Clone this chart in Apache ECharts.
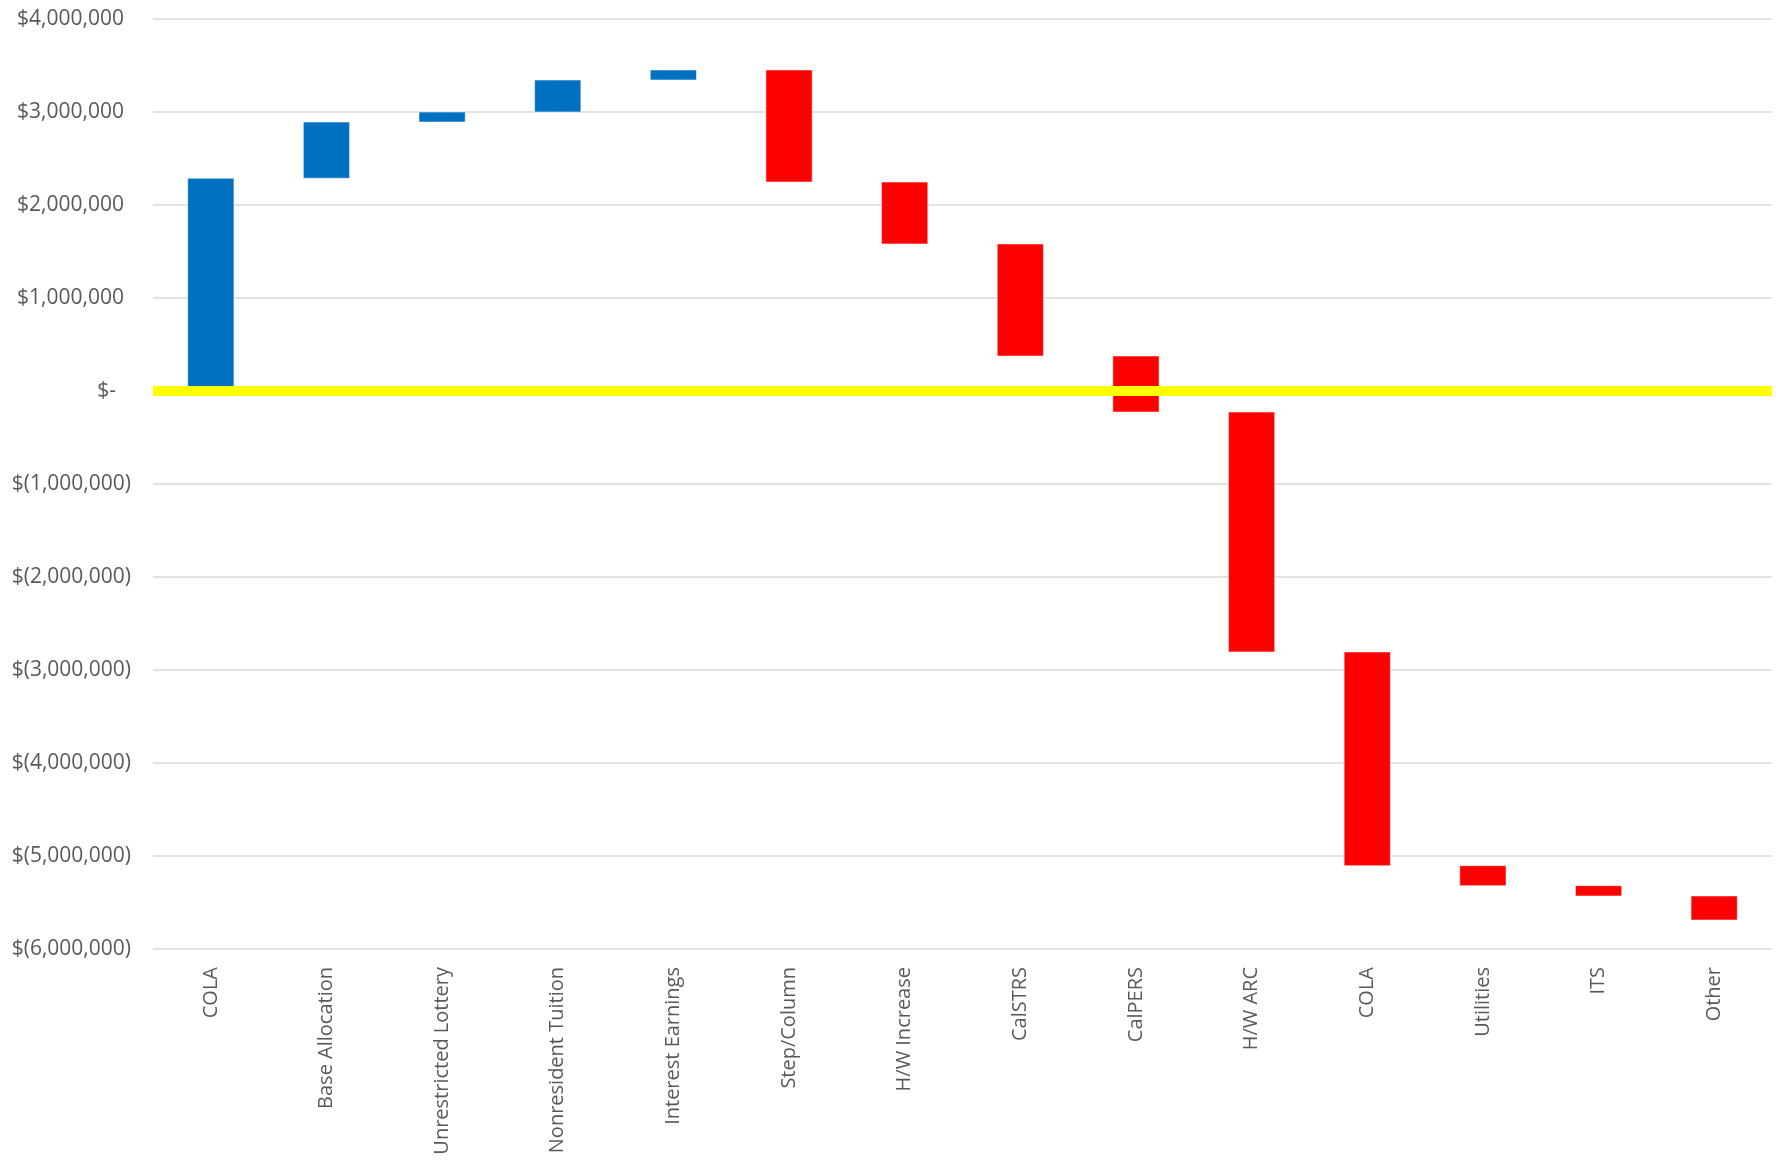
<!DOCTYPE html>
<html>
<head>
<meta charset="utf-8">
<title>Budget changes</title>
<script src="https://cdn.jsdelivr.net/npm/echarts@6/dist/echarts.min.js"></script>
<style>
  html, body { margin: 0; padding: 0; background: #ffffff; }
  #chart { width: 1789px; height: 1166px; }
</style>
</head>
<body>
<div id="chart"></div>
<script>
// Revenue increases and cost increases, in order of the waterfall
const categories = [
  'COLA', 'Base Allocation', 'Unrestricted Lottery', 'Nonresident Tuition',
  'Interest Earnings', 'Step/Column', 'H/W Increase', 'CalSTRS', 'CalPERS',
  'H/W ARC', 'COLA', 'Utilities', 'ITS', 'Other'
];
// Change in dollars for each item (positive = added funds, negative = new cost)
const changes = [
  2287000, 605000, 108000, 344000, 108000,
  -1205000, -666000, -1205000, -602000, -2580000,
  -2298000, -215000, -111000, -258000
];
// Value-axis ticks
const yMin = -6000000;
const yMax = 4000000;
const yStep = 1000000;

const INCREASE = '#0070C0';
const DECREASE = '#FF0000';
const TEXT = '#595959';
const FONT = '"Open Sans", "Liberation Sans", sans-serif';

// Running totals: each bar floats from the previous total to the new one
const steps = [];
let running = 0;
changes.forEach((d, i) => {
  const start = running;
  running += d;
  steps.push([i, start, running, d]);
});

function money(v) {
  if (v === 0) return '{t|$-}{z| }';
  const s = Math.abs(v).toLocaleString('en-US');
  return v > 0 ? '{t|$' + s + '}{p| }' : '{t|$(' + s + ')}';
}

const chart = echarts.init(document.getElementById('chart'), null, { renderer: 'canvas' });

chart.setOption({
  animation: false,
  backgroundColor: '#ffffff',
  grid: {
    left: 153,
    right: 17,
    top: 19,
    bottom: 217,
    containLabel: false,
    outerBoundsMode: 'none'
  },
  xAxis: {
    type: 'category',
    data: categories,
    axisLine: { show: false },
    axisTick: { show: false },
    splitLine: { show: false },
    axisLabel: {
      interval: 0,
      rotate: 90,
      margin: 18,
      color: TEXT,
      fontFamily: FONT,
      fontSize: 20
    }
  },
  yAxis: {
    type: 'value',
    min: yMin,
    max: yMax,
    interval: yStep,
    axisLine: { show: false },
    axisTick: { show: false },
    splitLine: { lineStyle: { color: '#D9D9D9', width: 1.5 } },
    axisLabel: {
      margin: 22,
      formatter: money,
      rich: {
        t: { color: TEXT, fontFamily: FONT, fontSize: 21 },
        p: { width: 7, fontSize: 21 },
        z: { width: 15, fontSize: 21 }
      }
    }
  },
  series: [{
    type: 'custom',
    name: 'Change',
    data: steps,
    encode: { x: 0, y: [1, 2] },
    renderItem: function (params, api) {
      const i = api.value(0);
      const a = api.coord([i, api.value(1)]);
      const b = api.coord([i, api.value(2)]);
      const w = api.size([1, 0])[0] * 0.4;
      return {
        type: 'rect',
        shape: {
          x: a[0] - w / 2,
          y: Math.min(a[1], b[1]),
          width: w,
          height: Math.abs(b[1] - a[1])
        },
        style: {
          fill: api.value(3) >= 0 ? INCREASE : DECREASE,
          stroke: 'rgba(255,255,255,0.55)',
          lineWidth: 1
        }
      };
    },
    markLine: {
      silent: true,
      symbol: 'none',
      label: { show: false },
      lineStyle: { color: '#FFFF00', width: 10, type: 'solid' },
      data: [{ yAxis: 0 }]
    }
  }]
});
</script>
</body>
</html>
